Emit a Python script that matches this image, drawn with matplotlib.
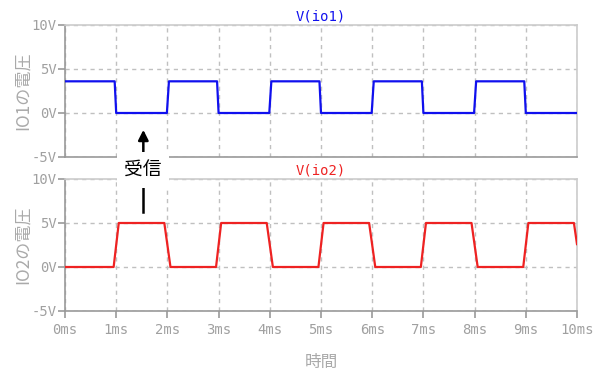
import matplotlib
matplotlib.use("Agg")
import matplotlib.pyplot as plt

# Data
io1_t = [0, 0.97, 1.00, 1.99, 2.03, 2.97, 3.00, 3.99, 4.03, 4.97, 5.00,
         5.99, 6.03, 6.97, 7.00, 7.99, 8.03, 8.97, 9.00, 10.0]
io1_v = [3.6, 3.6, 0, 0, 3.6, 3.6, 0, 0, 3.6, 3.6, 0,
         0, 3.6, 3.6, 0, 0, 3.6, 3.6, 0, 0]
io2_t = [0, 0.95, 1.05, 1.94, 2.06, 2.95, 3.05, 3.94, 4.06, 4.95, 5.05,
         5.94, 6.06, 6.95, 7.05, 7.94, 8.06, 8.95, 9.05, 9.94, 10.0]
io2_v = [0, 0, 5, 5, 0, 0, 5, 5, 0, 0, 5,
         5, 0, 0, 5, 5, 0, 0, 5, 5, 2.6]
x_ticks = list(range(0, 11))
x_labels = [f"{i}ms" for i in x_ticks]
y_ticks = [-5, 0, 5, 10]
y_labels = ["-5V", "0V", "5V", "10V"]
titles = ["V(io1)", "V(io2)"]
ylabels = ["IO1の電圧", "IO2の電圧"]
xlabel = "時間"
note = "受信"

CJK = ["Noto Sans CJK JP", "DejaVu Sans"]
MONO = "DejaVu Sans Mono"

fig = plt.figure(figsize=(6, 3.84), dpi=100)
W, H = 600, 384
L, R = 65, 577
ax1 = fig.add_axes([L / W, 1 - 157 / H, (R - L) / W, 132 / H])
ax2 = fig.add_axes([L / W, 1 - 311 / H, (R - L) / W, 132 / H])

series = [(ax1, io1_t, io1_v, "#1010ee"), (ax2, io2_t, io2_v, "#ee2222")]
for i, (ax, t, v, c) in enumerate(series):
    ax.plot(t, v, color=c, lw=1.6, zorder=3)
    ax.set_xlim(0, 10)
    ax.set_ylim(-5, 10)
    ax.set_xticks(x_ticks)
    ax.set_yticks(y_ticks)
    ax.set_yticklabels(y_labels, fontfamily=MONO, fontsize=10, color="#a0a0a0")
    ax.grid(True, color="#c0c0c0", lw=1, ls=(0, (3, 3)))
    for s in ["top", "right"]:
        ax.spines[s].set_color("#cccccc")
    for s in ["left", "bottom"]:
        ax.spines[s].set_color("#999999")
    for s in ax.spines.values():
        s.set_linewidth(1.2)
    ax.tick_params(axis="y", length=5, color="#999999", width=1.2, pad=1)
    ax.set_title(titles[i], fontfamily=MONO, fontsize=10, color=c, pad=3)
    ax.set_ylabel(ylabels[i], fontfamily=CJK, fontsize=12.3, color="#aaaaaa", labelpad=0)

ax1.tick_params(axis="x", length=0, labelbottom=False)
ax2.set_xticklabels(x_labels, fontfamily=MONO, fontsize=10, color="#a0a0a0")
ax2.tick_params(axis="x", length=5, color="#999999", width=1.2, pad=4)
ax2.set_xlabel(xlabel, fontfamily=CJK, fontsize=12, color="#aaaaaa", labelpad=12)

# Annotation
ax1.annotate("", xy=(1.53, -1.6), xytext=(1.53, -4.8),
             arrowprops=dict(arrowstyle="-|>", color="black", lw=1.8,
                             mutation_scale=15),
             annotation_clip=False, zorder=10)
ax2.plot([1.53, 1.53], [9.3, 6.3], color="black", lw=1.8, clip_on=False, zorder=10)
fig.text(143 / W, 1 - 170 / H, note, fontfamily=CJK, fontsize=13.5, color="black",
         ha="center", va="center", zorder=20,
         bbox=dict(facecolor="white", edgecolor="none", boxstyle="square,pad=0.4"))

fig.savefig("out.png", dpi=100)
